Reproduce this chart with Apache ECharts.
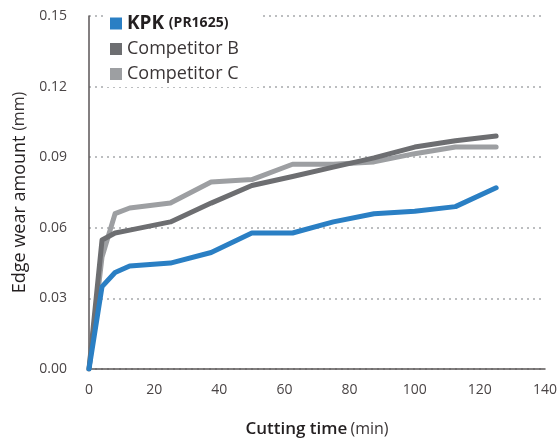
<!DOCTYPE html>
<html>
<head>
<meta charset="utf-8">
<script src="https://cdn.jsdelivr.net/npm/echarts@6/dist/echarts.min.js"></script>
<style>
html, body { margin: 0; padding: 0; background: #fff; }
#chart { width: 560px; height: 443px; }
</style>
</head>
<body>
<div id="chart"></div>
<script>
// cutting time (min)
var timeList = [0, 4, 8, 12.5, 25, 37.5, 50, 62.5, 75, 87.5, 100, 112.5, 125];
// edge wear (mm)
var kpkData = [0, 0.035, 0.041, 0.0438, 0.045, 0.0495, 0.0578, 0.0578, 0.0625, 0.066, 0.067, 0.069, 0.077];
var compBData = [0, 0.0548, 0.0578, 0.059, 0.0625, 0.0705, 0.078, 0.0818, 0.0858, 0.0897, 0.0943, 0.097, 0.099];
var compCData = [0, 0.0476, 0.066, 0.0684, 0.0705, 0.0795, 0.0805, 0.087, 0.087, 0.088, 0.0915, 0.0943, 0.0943];
var seriesNames = ['KPK', 'Competitor B', 'Competitor C'];
var seriesColors = ['#2a7fc4', '#6d6e71', '#9d9fa2'];

var chart = echarts.init(document.getElementById('chart'));

function pairs(ys) {
    var out = [];
    for (var i = 0; i < timeList.length; i++) {
        out.push([timeList[i], ys[i]]);
    }
    return out;
}

var allData = [kpkData, compBData, compCData];
var seriesList = [];
for (var i = 0; i < seriesNames.length; i++) {
    seriesList.push({
        name: seriesNames[i],
        type: 'line',
        showSymbol: false,
        symbol: 'none',
        z: 10 - i,
        lineStyle: { width: 5, color: seriesColors[i], cap: 'round', join: 'round' },
        itemStyle: { color: seriesColors[i] },
        data: pairs(allData[i])
    });
}
// draw grays below blue
seriesList.reverse();

var font = '"Open Sans", "DejaVu Sans", sans-serif';

var option = {
    animation: false,
    textStyle: { fontFamily: font },
    grid: { left: 89, right: 12, top: 16, bottom: 74 },
    legend: {
        data: seriesNames,
        orient: 'vertical',
        left: 106,
        top: 12,
        itemWidth: 12,
        itemHeight: 12,
        itemGap: 7,
        padding: [2, 24, 4, 4],
        backgroundColor: '#fff',
        icon: 'rect',
        textStyle: {
            fontFamily: font,
            fontSize: 18,
            color: '#3a3536',
            rich: {
                b: { fontFamily: font, fontSize: 19, fontWeight: 'bold', color: '#231f20' },
                s: { fontFamily: font, fontSize: 14, fontWeight: 'bold', color: '#231f20' },
                n: { fontFamily: font, fontSize: 18, color: '#3a3536' }
            }
        },
        formatter: function (name) {
            if (name === 'KPK') {
                return '{b|KPK} {s|(PR1625)}';
            }
            return '{n|' + name + '}';
        }
    },
    xAxis: {
        type: 'value',
        min: 0,
        max: 140,
        interval: 20,
        name: '{b|Cutting time} {n|(min)}',
        nameLocation: 'middle',
        nameGap: 52,
        nameTextStyle: {
            align: 'center',
            rich: {
                b: { fontFamily: font, fontSize: 17, fontWeight: 600, color: '#231f20' },
                n: { fontFamily: font, fontSize: 16, color: '#3a3536' }
            }
        },
        axisLine: { lineStyle: { color: '#5a5556', width: 1.5 } },
        axisTick: { show: false },
        splitLine: { show: false },
        axisLabel: { fontSize: 14, color: '#4a4546', margin: 14 }
    },
    yAxis: {
        type: 'value',
        min: 0,
        max: 0.15,
        interval: 0.03,
        name: 'Edge wear amount {n|(mm)}',
        nameLocation: 'middle',
        nameGap: 64,
        nameRotate: 90,
        nameTextStyle: {
            fontFamily: font,
            fontSize: 18,
            color: '#231f20',
            align: 'center',
            verticalAlign: 'middle',
            rich: {
                n: { fontFamily: font, fontSize: 16, color: '#3a3536' }
            }
        },
        axisLine: { show: true, lineStyle: { color: '#5a5556', width: 1.5 } },
        axisTick: { show: false },
        splitLine: { show: true, lineStyle: { type: [2, 4], color: '#a7a9ac', width: 1.5 } },
        axisLabel: {
            fontSize: 14,
            color: '#4a4546',
            margin: 22,
            formatter: function (v) { return v.toFixed(2); }
        }
    },
    series: seriesList
};

chart.setOption(option);
</script>
</body>
</html>
